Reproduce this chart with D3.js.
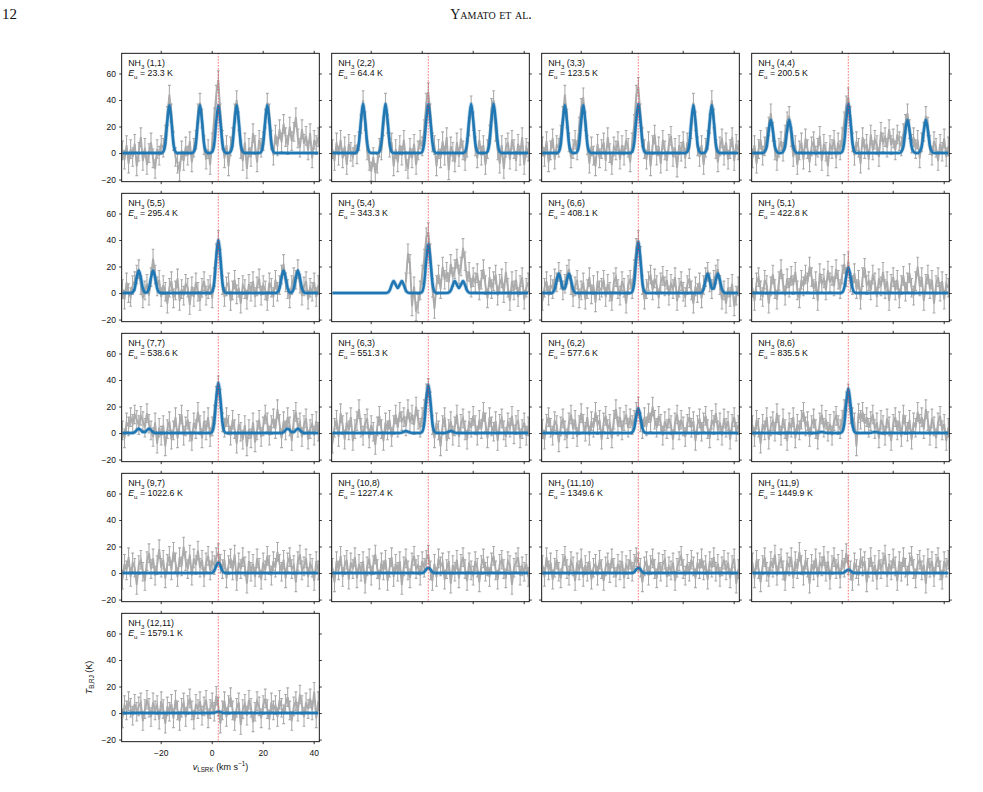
<!DOCTYPE html>
<html lang="en">
<head>
<meta charset="utf-8">
<title>NH3 spectra</title>
<script src="https://cdn.jsdelivr.net/npm/d3@7"></script>
<style>
  body { margin: 0; background: #fff; }
  svg text { font-family: "Liberation Sans", Arial, Helvetica, sans-serif; fill: #111; }
</style>
</head>
<body>
<div id="chart"></div>
<script>
  // panel labels
  const transitions = ["(1,1)", "(2,2)", "(3,3)", "(4,4)", "(5,5)", "(5,4)", "(6,6)", "(5,1)",
    "(7,7)", "(6,3)", "(6,2)", "(8,6)", "(9,7)", "(10,8)", "(11,10)", "(11,9)", "(12,11)"];
  const energies = ["23.3", "64.4", "123.5", "200.5", "295.4", "343.3", "408.1", "422.8",
    "538.6", "551.3", "577.6", "835.5", "1022.6", "1227.4", "1349.6", "1449.9", "1579.1"];
  const sigma = [7, 7, 7, 7, 7, 7, 7, 7, 7, 7, 7, 7, 7, 7, 7, 7, 7];

  // channel grid (km/s)
  const vStart = -35, dv = 0.8, nChan = 97;
  const vSys = 2.6;
  const xTicks = [-20, 0, 20, 40], yTicks = [-20, 0, 20, 40, 60];

  // observed brightness temperatures (K), one value per channel
  const obs11 = [2, -5, 6, -8, 3, -3, 7, -10, 1, 12,
    -6, 4, -9, 0, 8, -4, -12, 3, -2, 6,
    4, 14, 28, 44, 30, 9, -3, -8, -14, 2,
    -6, 5, -2, 9, -7, 4, 10, 30, 38, 26,
    6, -5, 3, -9, 8, 27, 44, 55, 30, 10,
    -4, 6, -10, 5, 12, 30, 40, 24, 3, -6,
    8, -12, 4, -3, 15, 6, -7, 10, 4, 9,
    26, 38, 30, 10, -2, 14, 5, 18, 8, 22,
    12, 6, 20, 9, 16, 27, 11, 4, 18, 7,
    13, 2, 15, -4, 10, 6, 12];
  const obs22 = [3, -6, 8, -2, 10, -4, 5, -9, 7, 1,
    -3, 6, -1, 9, 22, 40, 24, 2, -6, -14,
    -3, -15, -8, 4, 2, 20, 38, 22, 4, 8,
    -10, 3, -7, 6, -2, 10, -6, -12, 4, -4,
    7, -9, 2, 10, 5, 18, 38, 46, 30, 8,
    6, -10, 3, -4, 9, -2, 12, -13, 5, 1,
    -7, 8, -3, 11, 2, -6, 4, 20, 36, 24,
    5, -4, 10, -2, 6, -9, 3, 14, 34, 40,
    16, 2, -8, 6, -12, 4, 8, -5, 10, 3,
    -6, 7, -2, 12, -9, 4, 1];
  const obs33 = [5, -3, 9, -7, 2, 11, -5, 6, 4, 14,
    28, 44, 26, 8, -4, 3, 10, 2, 20, 34,
    42, 24, 6, -8, 5, -2, -10, 7, -4, 3,
    8, -6, 12, 0, -9, 5, 2, 9, -5, 6,
    -2, 10, 4, -7, 8, 22, 44, 50, 30, 12,
    3, -5, 9, -10, 6, 14, -2, 5, -8, 10,
    2, -6, 7, 13, -3, 4, -11, 6, 1, 9,
    -4, 8, 3, 18, 38, 24, 5, -3, 6, -9,
    4, 10, 22, 40, 26, 3, -7, 5, 11, -2,
    8, -5, 3, 12, -6, 7, 2];
  const obs44 = [-4, 6, -8, 3, 10, -2, 5, 12, 20, 30,
    16, 2, -6, 4, 9, 1, 14, 24, 28, 12,
    -3, 6, -9, 2, 8, -5, 11, 3, -7, 5,
    9, -2, 4, 13, -6, 7, 1, -10, 6, 3,
    10, -4, 8, 2, 12, 24, 36, 42, 28, 8,
    -2, 9, 4, -8, 12, 3, 7, -5, 14, 2,
    10, 6, -3, 16, 8, 12, 4, 18, 6, 11,
    2, 14, 9, 5, 15, 22, 30, 18, 7, 12,
    3, 10, -4, 8, 16, 28, 20, 6, -2, 9,
    4, -6, 7, 1, 11, -3, 5];
  const obs55 = [3, -5, 8, 0, -3, 6, 9, 14, 18, 6,
    -4, 2, 7, -2, 12, 26, 14, 5, 10, -3,
    6, 1, -8, 4, 9, -4, 2, 11, -6, 3,
    -2, 7, 4, -9, 5, -3, 8, 1, -6, 4,
    9, -2, 3, 6, -4, 12, 30, 40, 26, 6,
    -3, 5, 8, -6, 2, 10, -1, 4, -8, 6,
    3, -5, 7, 1, 9, -3, 5, 11, -2, 6,
    2, -6, 8, 4, -3, 10, 1, 6, 14, 22,
    8, 3, -4, 6, 12, 10, 18, 7, -2, 5,
    9, -5, 4, 1, 8, -3, 6];
  const obs54 = [null, null, null, null, null, null, null, null, null, null,
    null, null, null, null, null, null, null, null, null, null,
    null, null, null, null, null, null, null, null, null, null,
    null, null, null, null, null, null, 8, 30, 22, -10,
    5, -14, -8, 2, 14, 26, 42, 46, 30, 4,
    -12, 6, 14, 3, 20, 10, 16, 8, 22, 12,
    18, 26, 14, 20, 34, 24, 9, 16, 4, 12,
    8, 15, 2, 10, 18, 6, -4, 12, 3, 9,
    14, -2, 7, 11, 0, 16, 4, -6, 9, 2,
    10, -3, 6, 12, -5, 4, 8];
  const obs66 = [-6, 4, 9, -2, 6, 3, 11, 8, 16, 10,
    2, 7, 14, 18, 6, -3, 5, 10, -4, 2,
    8, -5, 3, 12, -1, 6, -7, 9, 2, 4,
    10, -3, 7, 1, -6, 8, 12, 3, -2, 9,
    4, -8, 6, 10, 3, 18, 34, 40, 28, 6,
    -5, 3, 9, 14, 2, 11, 6, -4, 8, 13,
    5, 10, -2, 7, 3, 12, -6, 4, 9, 1,
    -3, 6, 11, 2, -8, 5, 0, 8, -4, 6,
    12, 16, 8, 3, 10, 14, 18, 6, -5, 2,
    -8, 4, -3, 7, -10, -2, 5];
  const obs51 = [4, -6, 8, 12, 2, -3, 10, 6, -8, 5,
    14, 3, -5, 9, 18, 7, -2, 11, 4, 13,
    6, 16, 2, -4, 10, 5, 14, 8, 20, 12,
    3, 9, -6, 15, 7, 11, 2, 17, 8, 13,
    5, 18, 10, 3, 14, 22, 12, 24, 8, 6,
    15, 3, 10, -5, 12, 19, 6, 9, 2, 14,
    8, -3, 11, 5, 16, 3, 9, -6, 7, 12,
    2, 10, -4, 6, 13, 1, 8, 15, 4, -2,
    9, 20, 5, 12, -6, 7, 14, 3, 10, -8,
    6, 12, 1, 9, -5, 7, 4];
  const obs77 = [2, -4, 8, 5, 12, 7, 14, 10, 6, 13,
    9, 4, 15, 7, 2, -3, 8, -8, 4, -2,
    6, -10, 3, 9, -5, 2, 12, -4, 7, 14,
    -2, 5, 10, 1, -6, 8, 3, 16, 6, -4,
    9, 2, 12, -3, 5, 14, 28, 36, 26, 8,
    4, 12, 6, -2, 10, 3, -8, 7, 1, -5,
    6, -10, 3, -4, 8, -7, 2, 10, -3, 5,
    14, 8, -2, 6, 11, 3, 18, 7, -4, 9,
    2, 12, 5, -6, 10, 16, 4, 8, -3, 6,
    11, -5, 3, 7, -2, 9, 1];
  const obs63 = [-8, 4, 10, -3, 15, 6, -5, 8, 2, 12,
    -6, 3, 9, 18, 4, -2, 7, 11, -4, 6,
    1, -9, 5, 13, 3, -6, 8, 2, 10, -3,
    6, 14, 4, 16, 9, 12, 5, 18, 8, 14,
    6, 20, 10, 4, 12, 18, 30, 34, 24, 6,
    -4, 8, 2, -10, 6, 12, -6, 3, 9, -2,
    5, 14, -3, 7, 11, 2, -5, 9, 4, 13,
    6, -2, 10, 3, 16, 8, -4, 12, 5, 1,
    9, -6, 7, 11, 2, -3, 8, 4, 13, -1,
    6, 10, -4, 3, 8, -2, 5];
  const obs62 = [3, -5, 7, 12, 4, -2, 9, 6, -7, 5,
    11, 2, -4, 8, 14, 3, 10, -3, 6, 15,
    7, 1, 12, -2, 9, 4, 16, 6, 10, -5,
    8, 13, 3, 7, -4, 10, 18, 5, 12, 2,
    9, 14, 4, 11, 6, 10, 16, 20, 8, 3,
    12, 5, 15, 8, 20, 10, 4, 13, 7, -2,
    9, 3, 11, 6, -5, 8, 14, 2, 10, 5,
    -3, 7, 12, 4, 9, -6, 6, 11, 1, 8,
    13, 3, -4, 10, 6, 15, 2, 8, -2, 11,
    4, 9, -5, 7, 12, 1, 6];
  const obs86 = [6, -3, 10, 4, -8, 7, 2, 12, -5, 5,
    9, 1, 15, 6, -2, 11, 3, -6, 8, 4,
    12, -4, 7, 2, 10, 16, 5, 9, -3, 6,
    11, 3, -5, 8, 14, 4, 10, 1, 7, -2,
    9, 13, 6, 3, 10, 18, 24, 30, 14, 12,
    8, -10, 15, 10, 16, 7, 12, 4, 9, 14,
    3, 8, -4, 10, 6, -2, 11, 5, -6, 7,
    12, 2, 9, -3, 14, 6, 1, 10, -5, 8,
    4, 16, 7, 12, 3, 18, 9, -2, 11, 5,
    -4, 8, 13, 2, 7, -6, 4];
  const obs97 = [-5, 7, 2, 12, -3, 8, 4, -9, 6, 10,
    1, -6, 9, 15, 3, 11, -2, 6, 18, 4,
    10, -4, 7, 13, 2, 16, 8, -3, 12, 5,
    20, 9, 3, 14, -2, 11, 6, 17, 4, 10,
    -3, 8, 13, 2, 9, 6, 12, 15, 7, 3,
    10, -4, 6, 11, 2, 14, -6, 8, 3, 12,
    5, -8, 9, 1, 7, -3, 11, 4, -5, 8,
    2, 13, 6, -2, 9, 4, 16, 7, 1, 10,
    -4, 8, 12, 3, 6, -7, 9, 14, 2, 5,
    11, -3, 7, 4, -6, 9, 2];
  const obs108 = [4, -7, 9, 2, 13, -3, 6, 10, -5, 8,
    3, 12, -4, 7, 1, 9, -8, 5, 11, -2,
    6, 14, 3, -5, 8, 2, 10, -6, 4, 12,
    -3, 7, 1, 9, -9, 5, 11, 2, -4, 8,
    13, 3, 6, -2, 9, 4, 10, 14, 2, -6,
    7, -3, 11, 5, 8, -5, 3, 9, -8, 6,
    1, 10, -4, 7, 12, 3, -6, 8, 2, -2,
    9, 4, -7, 6, 11, 1, 5, -3, 8, 13,
    2, -5, 7, 10, 3, -4, 9, 6, -9, 4,
    8, 12, -2, 5, 1, 7, -3];
  const obs1110 = [6, -3, 12, 2, 8, -5, 4, 10, 1, -4,
    7, 13, 3, -2, 9, 5, -6, 8, 2, 11,
    -3, 6, 1, 9, -5, 4, 7, -2, 10, 3,
    -6, 5, 8, 0, 11, 4, -3, 7, 2, 9,
    -4, 6, 3, 10, 1, 7, 12, 8, 4, -7,
    5, 9, -2, 6, 11, 3, -4, 8, 1, 7,
    10, -3, 5, 2, 8, -6, 4, 9, 13, 3,
    -2, 7, 1, 10, 5, -4, 8, 3, 11, 2,
    6, -5, 9, 4, 12, 1, 7, -3, 5, 10,
    2, 8, -4, 6, 11, -8, 3];
  const obs119 = [8, -4, 10, 3, -7, 6, 12, 1, -3, 9,
    4, 14, -2, 7, 11, 2, -6, 8, 5, 12,
    -4, 9, 3, 16, 6, -2, 10, 4, -8, 7,
    2, 11, -3, 8, 5, 13, 1, 9, -5, 6,
    12, 3, 7, -4, 10, 4, 15, 6, 2, -6,
    8, 3, -2, 11, 5, 9, -7, 4, 12, 1,
    6, -5, 10, 3, 8, 14, -3, 7, 2, 11,
    5, -6, 9, 1, 12, 4, -2, 8, 13, 3,
    -4, 7, 10, 2, 6, -8, 11, 4, 9, -3,
    7, 12, 2, -5, 9, 4, 10];
  const obs1211 = [-4, 6, 2, 9, 4, -2, 7, 1, 5, 8,
    -6, 3, 10, 4, -3, 8, 2, 6, -5, 9,
    3, -8, 5, 1, 7, -4, 10, 2, -6, 4,
    8, -3, 6, 11, 2, -5, 7, 3, 9, -2,
    5, 10, -4, 3, 8, 1, 13, 5, -8, 2,
    9, -3, 6, 12, 2, -6, 4, 8, -9, 3,
    7, -2, 10, 4, -7, 1, 9, 5, -4, 6,
    11, 3, -5, 8, 2, 6, -3, 10, 4, -1,
    7, 12, 2, -6, 5, 9, 1, 14, 6, -3,
    8, 3, 11, 2, 16, -4, 9];
  const observed = [obs11, obs22, obs33, obs44, obs55, obs54, obs66, obs51,
    obs77, obs63, obs62, obs86, obs97, obs108, obs1110, obs119, obs1211];

  // model: [first channel, values (K)] for each hyperfine group, zero elsewhere
  const model11 = [[20, [1, 7, 24, 36, 24, 7, 1]], [35, [1, 7, 24, 36, 24, 7, 1]], [44, [1, 7, 24, 36, 24, 7, 1]],
    [53, [1, 7, 24, 36, 24, 7, 1]], [68, [1, 7, 24, 36, 24, 7, 1]]];
  const model22 = [[12, [1, 8, 25, 37, 25, 8, 1]], [23, [1, 8, 25, 37, 25, 8, 1]], [44, [1, 8, 25, 37, 25, 8, 1]],
    [65, [1, 8, 25, 37, 25, 8, 1]], [76, [1, 8, 25, 37, 25, 8, 1]]];
  const model33 = [[8, [1, 7, 24, 36, 24, 7, 1]], [17, [1, 7, 24, 36, 24, 7, 1]], [44, [1, 8, 25, 37, 25, 8, 1]],
    [71, [1, 7, 24, 36, 24, 7, 1]], [80, [1, 7, 24, 36, 24, 7, 1]]];
  const model44 = [[6, [1, 5, 17, 25, 17, 5, 1]], [15, [1, 5, 17, 25, 17, 5, 1]], [44, [1, 8, 25, 37, 25, 8, 1]],
    [73, [1, 5, 17, 25, 17, 5, 1]], [82, [1, 5, 17, 25, 17, 5, 1]]];
  const model55 = [[5, [0.5, 3.5, 11.5, 17, 11.5, 3.5, 0.5]], [12, [0.5, 3.5, 11.5, 17, 11.5, 3.5, 0.5]],
    [44, [1, 8, 27, 40, 27, 8, 1]],
    [76, [0.5, 3.5, 11.5, 17, 11.5, 3.5, 0.5]], [83, [0.5, 3.5, 11.5, 17, 11.5, 3.5, 0.5]]];
  const model54 = [[27, [0.3, 1.9, 6, 9, 6.3, 3.8, 6.3, 9, 6, 1.9, 0.3]], [44, [1, 8, 25, 37, 25, 8, 1]],
    [57, [0.3, 1.9, 6, 9, 6.3, 3.8, 6.3, 9, 6, 1.9, 0.3]]];
  const model66 = [[5, [0.4, 3, 9.8, 14.5, 9.8, 3, 0.4]], [10, [0.4, 3, 9.8, 14.5, 9.8, 3, 0.4]],
    [44, [1, 8, 26, 38.5, 26, 8, 1]],
    [78, [0.4, 3, 9.8, 14.5, 9.8, 3, 0.4]], [83, [0.4, 3, 9.8, 14.5, 9.8, 3, 0.4]]];
  const model51 = [[44, [0.5, 4, 13, 19, 13, 4, 0.5]]];
  const model77 = [[6, [0.7, 2.2, 3.3, 2.2, 0.7]], [11, [0.7, 2.2, 3.3, 2.2, 0.7]], [44, [1, 8, 26, 38, 26, 8, 1]],
    [79, [0.7, 2.2, 3.3, 2.2, 0.7]], [84, [0.7, 2.2, 3.3, 2.2, 0.7]]];
  const model63 = [[34, [0.3, 1, 1.5, 1, 0.3]], [44, [1, 7.5, 24.5, 36.5, 24.5, 7.5, 1]], [56, [0.3, 1, 1.5, 1, 0.3]]];
  const model62 = [[44, [0.5, 3.8, 12.4, 18.5, 12.4, 3.8, 0.5]]];
  const model86 = [[32, [0.2, 0.5, 0.8, 0.5, 0.2]], [44, [1, 7, 22.5, 33.5, 22.5, 7, 1]], [58, [0.2, 0.5, 0.8, 0.5, 0.2]]];
  const model97 = [[44, [0.2, 1.6, 5.4, 8, 5.4, 1.6, 0.2]]];
  const model108 = [[45, [0.8, 2.7, 4, 2.7, 0.8]]];
  const model1110 = [[45, [0.8, 2.7, 4, 2.7, 0.8]]];
  const model119 = [[45, [0.5, 1.7, 2.5, 1.7, 0.5]]];
  const model1211 = [[45, [0.2, 0.7, 1, 0.7, 0.2]]];
  const models = [model11, model22, model33, model44, model55, model54, model66, model51,
    model77, model63, model62, model86, model97, model108, model1110, model119, model1211];

  const width = 983, height = 792;
  const colLeft = [121.7, 331.7, 541.7, 751.7];
  const rowTop = [53.3, 193.3, 333.3, 473.3, 613.3];
  const panelW = 197.6, panelH = 128.4;
  const fontSize = 8.5;
  const gray = '#ababab', blue = '#1f77b4';

  const velocity = d3.range(nChan).map(i => vStart + i * dv);
  const x = d3.scaleLinear().domain([-35.3, 42.2]).range([0, panelW]);
  const y = d3.scaleLinear().domain([-21.6, 75.2]).range([panelH, 0]);

  const svg = d3.select('#chart').append('svg').attr('width', width).attr('height', height);

  // page header
  svg.append('text').attr('x', 2).attr('y', 19).attr('font-size', 15)
    .style('font-family', '"Liberation Serif", "Times New Roman", serif').text('12');
  svg.append('text').attr('x', 491).attr('y', 19).attr('font-size', 14).attr('text-anchor', 'middle')
    .style('font-family', '"Liberation Serif", "Times New Roman", serif')
    .style('font-variant', 'small-caps').text('Yamato et al.');

  // text with italic / sub / superscript pieces
  function richText(g, px, py, parts, size) {
    const t = g.append('text').attr('x', px).attr('y', py).attr('font-size', size);
    let shift = 0;
    parts.forEach(p => {
      const s = t.append('tspan').text(p.text);
      const want = p.sub ? size * 0.3 : p.sup ? -size * 0.38 : 0;
      if (want !== shift) { s.attr('dy', want - shift); shift = want; }
      if (p.sub || p.sup) s.attr('font-size', size * 0.7);
      if (p.italic) s.style('font-style', 'italic');
    });
    return t;
  }

  function buildModel(peaks) {
    const m = new Array(nChan).fill(0);
    peaks.forEach(([start, vals]) => vals.forEach((v, j) => { m[start + j] += v; }));
    return m;
  }

  function styleAxis(g) {
    g.select('.domain').remove();
    g.selectAll('.tick line').attr('stroke', '#000').attr('stroke-width', 0.8);
    g.selectAll('.tick text').attr('fill', '#111');
    g.attr('font-family', '"Liberation Sans", Arial, sans-serif').attr('font-size', fontSize);
  }

  function drawPanel(k) {
    const row = Math.floor(k / 4), col = k % 4;
    const g = svg.append('g').attr('transform', `translate(${colLeft[col]},${rowTop[row]})`);
    const clipId = 'clip' + k;
    g.append('clipPath').attr('id', clipId).append('rect').attr('width', panelW).attr('height', panelH);
    const plot = g.append('g').attr('clip-path', `url(#${clipId})`);

    const obs = observed[k].map((t, i) => ({ v: velocity[i], t: t }));
    const valid = obs.filter(d => d.t !== null);

    // error bars
    const s = sigma[k];
    plot.append('g').attr('stroke', gray).attr('stroke-width', 1.1)
      .selectAll('path').data(valid).join('path')
      .attr('d', d => {
        const cx = x(d.v), y0 = y(d.t - s), y1 = y(d.t + s);
        return `M${cx},${y0}V${y1}M${cx - 1.4},${y0}h2.8M${cx - 1.4},${y1}h2.8`;
      });

    const line = d3.line().defined(d => d.t !== null).x(d => x(d.v)).y(d => y(d.t));
    plot.append('path').datum(obs).attr('d', line)
      .attr('fill', 'none').attr('stroke', gray).attr('stroke-width', 1.9);

    // model
    const mod = buildModel(models[k]).map((t, i) => ({ v: velocity[i], t: t }));
    const mline = d3.line().curve(d3.curveMonotoneX).x(d => x(d.v)).y(d => y(d.t));
    plot.append('path').datum(mod).attr('d', mline)
      .attr('fill', 'none').attr('stroke', blue).attr('stroke-width', 4).attr('stroke-opacity', 0.3);
    plot.append('path').datum(mod).attr('d', mline)
      .attr('fill', 'none').attr('stroke', blue).attr('stroke-width', 2.5).attr('stroke-linejoin', 'round');

    // systemic velocity
    plot.append('line').attr('x1', x(vSys)).attr('x2', x(vSys)).attr('y1', 0).attr('y2', panelH)
      .attr('stroke', '#ff3030').attr('stroke-opacity', 0.7).attr('stroke-width', 1.2)
      .attr('stroke-dasharray', '1.2,1.8');

    // axes, ticks pointing outward on all sides
    const showY = col === 0, showX = k === 16;
    g.append('g').call(d3.axisLeft(y).tickValues(yTicks).tickSize(2.5).tickPadding(3.2)
      .tickFormat(showY ? d3.format('d') : ''))
      .call(styleAxis);
    g.append('g').attr('transform', `translate(${panelW},0)`)
      .call(d3.axisRight(y).tickValues(yTicks).tickSize(2.5).tickFormat('')).call(styleAxis);
    g.append('g').attr('transform', `translate(0,${panelH})`)
      .call(d3.axisBottom(x).tickValues(xTicks).tickSize(2.5).tickPadding(6)
        .tickFormat(showX ? d3.format('d') : ''))
      .call(styleAxis);
    g.append('g').call(d3.axisTop(x).tickValues(xTicks).tickSize(2.5).tickFormat('')).call(styleAxis);

    g.append('rect').attr('width', panelW).attr('height', panelH)
      .attr('fill', 'none').attr('stroke', '#000').attr('stroke-width', 0.9);

    richText(g, 6.5, 13, [{ text: 'NH' }, { text: '3', sub: true }, { text: ' ' + transitions[k] }], 8.8);
    richText(g, 6.5, 22.7, [{ text: 'E', italic: true }, { text: 'u', sub: true },
      { text: ' = ' + energies[k] + ' K' }], 8.8);
  }

  d3.range(observed.length).forEach(drawPanel);

  // axis titles for the lower-left panel
  richText(svg, colLeft[0] + panelW / 2, 769.5,
    [{ text: 'v', italic: true }, { text: 'LSRK', sub: true }, { text: ' (km s' }, { text: '−1', sup: true }, { text: ')' }], 9)
    .attr('text-anchor', 'middle');
  richText(svg, 0, 0, [{ text: 'T', italic: true }, { text: 'B,RJ', sub: true }, { text: ' (K)' }], 9)
    .attr('text-anchor', 'middle')
    .attr('transform', `translate(91.5,${rowTop[4] + panelH / 2}) rotate(-90)`);
</script>
</body>
</html>
